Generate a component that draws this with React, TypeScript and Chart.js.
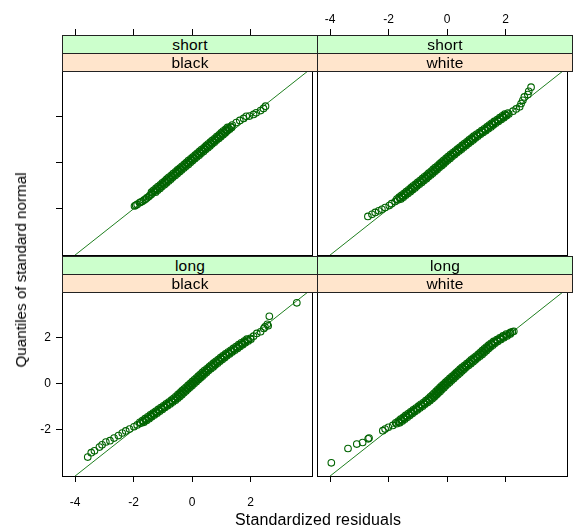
import React, { useEffect, useRef } from "react";
import { Chart, registerables } from "chart.js";
Chart.register(...registerables);

// ---- data ----
const xTickValues = [-4, -2, 0, 2];
const yTickValues = [-2, 0, 2];
const xRange = [-4.45, 4.13];
const yRange = [-4.0, 3.96];
const refLine = [-6, 6]; // y = x reference line
const durationLevels = ["short", "long"];
const raceLevels = ["black", "white"];
const xTitle = "Standardized residuals";
const yTitle = "Quantiles of standard normal";

// short / black
const ulX = [-1.97, -1.93, -1.88, -1.80, -1.76, -1.71, -1.65, -1.60, -1.55, -1.49, -1.45, -1.40,
  -1.36, -1.28, -1.21, -1.13, -1.06, -0.99, -0.91, -0.84, -0.76, -0.69, -0.61, -0.54, -0.46, -0.39, -0.32, -0.24, -0.17, -0.09, -0.02, 0.06, 0.13, 0.20, 0.28, 0.35, 0.43, 0.50, 0.58, 0.65, 0.73, 0.80, 0.87, 0.95, 1.02, 1.10, 1.17, 1.25, 1.32,
  1.37, 1.51, 1.63, 1.76, 1.85, 1.96, 2.10, 2.19, 2.34, 2.44, 2.51];
const ulY = [-1.88, -1.85, -1.81, -1.74, -1.71, -1.69, -1.63, -1.59, -1.53, -1.48, -1.43, -1.38,
  -1.32, -1.24, -1.16, -1.08, -1.00, -0.92, -0.84, -0.76, -0.68, -0.60, -0.52, -0.44, -0.36, -0.28, -0.20, -0.12, -0.04, 0.04, 0.12, 0.20, 0.28, 0.36, 0.44, 0.52, 0.60, 0.68, 0.76, 0.84, 0.92, 1.00, 1.08, 1.16, 1.24, 1.32, 1.40, 1.48, 1.56,
  1.62, 1.73, 1.82, 1.91, 2.00, 2.01, 2.08, 2.15, 2.25, 2.34, 2.44];
const ulMidY = [-1.28, -1.20, -1.12, -1.04, -0.96, -0.88, -0.80, -0.72, -0.64, -0.56, -0.48, -0.40, -0.32, -0.24, -0.16, -0.08, 0.00, 0.08, 0.16, 0.24, 0.32, 0.40, 0.48, 0.56, 0.64, 0.72, 0.80, 0.88, 0.96, 1.04, 1.12, 1.20, 1.28, 1.36, 1.44, 1.52];
const ulMidXa = [-1.25, -1.18, -1.10, -1.03, -0.95, -0.88, -0.80, -0.73, -0.66, -0.58, -0.51, -0.43, -0.36, -0.28, -0.21, -0.13, -0.06, 0.01, 0.09, 0.16, 0.24, 0.31, 0.39, 0.46, 0.54, 0.61, 0.68, 0.76, 0.83, 0.91, 0.98, 1.06, 1.13, 1.20, 1.28, 1.35];
const ulMidXb = [-1.39, -1.32, -1.24, -1.17, -1.09, -1.02, -0.94, -0.87, -0.80, -0.72, -0.65, -0.57, -0.50, -0.42, -0.35, -0.27, -0.20, -0.13, -0.05, 0.02, 0.10, 0.17, 0.25, 0.32, 0.40, 0.47, 0.54, 0.62, 0.69, 0.77, 0.84, 0.92, 0.99, 1.06, 1.14, 1.21];

// short / white
const urX = [-2.71, -2.57, -2.46, -2.34, -2.23, -2.12, -1.98, -1.90, -1.78,
  -1.69, -1.61, -1.53, -1.45, -1.37, -1.29, -1.21, -1.13, -1.06, -0.98, -0.90, -0.82, -0.74, -0.67, -0.59, -0.52, -0.44, -0.37, -0.30, -0.22, -0.15, -0.08, -0.01, 0.07, 0.14, 0.22, 0.30, 0.38, 0.46, 0.54, 0.62, 0.70, 0.78, 0.86, 0.94, 1.03, 1.12, 1.21, 1.30, 1.39, 1.47, 1.55, 1.63, 1.74, 1.83, 1.92, 2.00, 2.08,
  2.25, 2.36, 2.48, 2.53, 2.59, 2.64, 2.76, 2.79, 2.87];
const urY = [-2.33, -2.24, -2.16, -2.09, -2.02, -1.95, -1.86, -1.78, -1.69,
  -1.62, -1.54, -1.46, -1.38, -1.30, -1.22, -1.14, -1.06, -0.98, -0.90, -0.82, -0.74, -0.66, -0.58, -0.50, -0.42, -0.34, -0.26, -0.18, -0.10, -0.02, 0.06, 0.14, 0.22, 0.30, 0.38, 0.46, 0.54, 0.62, 0.70, 0.78, 0.86, 0.94, 1.02, 1.10, 1.18, 1.26, 1.34, 1.42, 1.50, 1.58, 1.66, 1.74, 1.82, 1.90, 1.98, 2.06, 2.14,
  2.22, 2.32, 2.41, 2.55, 2.69, 2.84, 2.94, 3.08, 3.26];
const urMidY = [-1.58, -1.50, -1.42, -1.34, -1.26, -1.18, -1.10, -1.02, -0.94, -0.86, -0.78, -0.70, -0.62, -0.54, -0.46, -0.38, -0.30, -0.22, -0.14, -0.06, 0.02, 0.10, 0.18, 0.26, 0.34, 0.42, 0.50, 0.58, 0.66, 0.74, 0.82, 0.90, 0.98, 1.06, 1.14, 1.22, 1.30, 1.38, 1.46, 1.54, 1.62, 1.70, 1.78, 1.86, 1.94, 2.02, 2.10];
const urMidXa = [-1.58, -1.50, -1.42, -1.34, -1.26, -1.18, -1.10, -1.03, -0.95, -0.87, -0.79, -0.71, -0.64, -0.56, -0.49, -0.41, -0.34, -0.27, -0.19, -0.12, -0.05, 0.02, 0.10, 0.17, 0.25, 0.33, 0.41, 0.49, 0.57, 0.65, 0.73, 0.81, 0.89, 0.97, 1.05, 1.14, 1.23, 1.32, 1.41, 1.50, 1.58, 1.66, 1.75, 1.85, 1.94, 2.03, 2.11];
const urMidXb = [-1.72, -1.64, -1.56, -1.48, -1.40, -1.32, -1.24, -1.17, -1.09, -1.01, -0.93, -0.85, -0.78, -0.70, -0.63, -0.55, -0.48, -0.41, -0.33, -0.26, -0.19, -0.12, -0.04, 0.03, 0.11, 0.19, 0.27, 0.35, 0.43, 0.51, 0.59, 0.67, 0.75, 0.83, 0.91, 1.00, 1.09, 1.18, 1.27, 1.36, 1.44, 1.52, 1.61, 1.71, 1.80, 1.89, 1.97];

// long / black
const llX = [-3.57, -3.45, -3.34, -3.17, -3.08, -2.95, -2.81, -2.67, -2.52, -2.39, -2.27, -2.14, -1.99, -1.88,
  -1.76, -1.67, -1.58, -1.49, -1.40, -1.31, -1.22, -1.13, -1.04, -0.95, -0.86, -0.77, -0.68, -0.59, -0.52, -0.45, -0.38, -0.31, -0.24, -0.17, -0.10, -0.03, 0.04, 0.11, 0.18, 0.25, 0.32, 0.39, 0.46, 0.53, 0.61, 0.69, 0.76, 0.84, 0.92, 1.00, 1.08, 1.17, 1.26, 1.35, 1.44, 1.53, 1.62, 1.71, 1.80, 1.90, 1.99,
  2.10, 2.21, 2.34, 2.45, 2.49, 2.57, 2.60, 2.64, 3.58];
const llY = [-3.18, -2.99, -2.91, -2.75, -2.65, -2.53, -2.47, -2.36, -2.25, -2.14, -2.05, -1.97, -1.87, -1.79,
  -1.72, -1.64, -1.56, -1.48, -1.40, -1.32, -1.24, -1.16, -1.08, -1.00, -0.92, -0.84, -0.76, -0.68, -0.60, -0.52, -0.44, -0.36, -0.28, -0.20, -0.12, -0.04, 0.04, 0.12, 0.20, 0.28, 0.36, 0.44, 0.52, 0.60, 0.68, 0.76, 0.84, 0.92, 1.00, 1.08, 1.16, 1.24, 1.32, 1.40, 1.48, 1.56, 1.64, 1.72, 1.80, 1.88, 1.96,
  2.05, 2.17, 2.24, 2.38, 2.45, 2.56, 2.50, 2.91, 3.49];
const llMidY = [-1.68, -1.60, -1.52, -1.44, -1.36, -1.28, -1.20, -1.12, -1.04, -0.96, -0.88, -0.80, -0.72, -0.64, -0.56, -0.48, -0.40, -0.32, -0.24, -0.16, -0.08, 0.00, 0.08, 0.16, 0.24, 0.32, 0.40, 0.48, 0.56, 0.64, 0.72, 0.80, 0.88, 0.96, 1.04, 1.12, 1.20, 1.28, 1.36, 1.44, 1.52, 1.60, 1.68, 1.76, 1.84, 1.92];
const llMidXa = [-1.65, -1.56, -1.47, -1.38, -1.29, -1.20, -1.11, -1.02, -0.93, -0.84, -0.75, -0.66, -0.57, -0.49, -0.42, -0.35, -0.28, -0.21, -0.14, -0.07, 0.00, 0.07, 0.14, 0.21, 0.28, 0.35, 0.42, 0.49, 0.56, 0.64, 0.72, 0.79, 0.87, 0.95, 1.03, 1.11, 1.19, 1.28, 1.37, 1.46, 1.55, 1.64, 1.73, 1.82, 1.92, 2.01];
const llMidXb = [-1.79, -1.70, -1.61, -1.52, -1.43, -1.34, -1.25, -1.16, -1.07, -0.98, -0.89, -0.80, -0.71, -0.63, -0.56, -0.49, -0.42, -0.35, -0.28, -0.21, -0.14, -0.07, 0.00, 0.07, 0.14, 0.21, 0.28, 0.35, 0.42, 0.50, 0.58, 0.65, 0.73, 0.81, 0.89, 0.97, 1.05, 1.14, 1.23, 1.32, 1.41, 1.50, 1.59, 1.68, 1.78, 1.87];

// long / white
const lrX = [-3.96, -3.39, -3.09, -2.89, -2.70, -2.67, -2.20, -2.12, -2.01, -1.86,
  -1.73, -1.64, -1.56, -1.47, -1.39, -1.30, -1.22, -1.13, -1.04, -0.95, -0.87, -0.78, -0.70, -0.61, -0.54, -0.47, -0.41, -0.34, -0.28, -0.21, -0.15, -0.08, -0.02, 0.05, 0.12, 0.19, 0.26, 0.33, 0.40, 0.47, 0.54, 0.62, 0.70, 0.78, 0.85, 0.93, 1.01, 1.09, 1.16, 1.23, 1.30, 1.37, 1.45, 1.52, 1.61, 1.71, 1.82, 1.92, 2.03, 2.14, 2.23,
  2.17, 2.28];
const lrY = [-3.43, -2.81, -2.62, -2.55, -2.39, -2.36, -2.04, -1.97, -1.89, -1.81,
  -1.74, -1.66, -1.58, -1.50, -1.42, -1.34, -1.26, -1.18, -1.10, -1.02, -0.94, -0.86, -0.78, -0.70, -0.62, -0.54, -0.46, -0.38, -0.30, -0.22, -0.14, -0.06, 0.02, 0.10, 0.18, 0.26, 0.34, 0.42, 0.50, 0.58, 0.66, 0.74, 0.82, 0.90, 0.98, 1.06, 1.14, 1.22, 1.30, 1.38, 1.46, 1.54, 1.62, 1.70, 1.78, 1.86, 1.94, 2.02, 2.10, 2.18, 2.24,
  2.21, 2.26];
const lrMidY = [-1.70, -1.62, -1.54, -1.46, -1.38, -1.30, -1.22, -1.14, -1.06, -0.98, -0.90, -0.82, -0.74, -0.66, -0.58, -0.50, -0.42, -0.34, -0.26, -0.18, -0.10, -0.02, 0.06, 0.14, 0.22, 0.30, 0.38, 0.46, 0.54, 0.62, 0.70, 0.78, 0.86, 0.94, 1.02, 1.10, 1.18, 1.26, 1.34, 1.42, 1.50, 1.58, 1.66, 1.74, 1.82, 1.90, 1.98, 2.06, 2.14];
const lrMidXa = [-1.62, -1.53, -1.45, -1.36, -1.28, -1.19, -1.11, -1.02, -0.93, -0.84, -0.76, -0.67, -0.59, -0.51, -0.44, -0.37, -0.31, -0.24, -0.18, -0.11, -0.05, 0.02, 0.09, 0.16, 0.23, 0.30, 0.37, 0.44, 0.51, 0.58, 0.65, 0.73, 0.81, 0.89, 0.96, 1.04, 1.12, 1.20, 1.27, 1.34, 1.41, 1.48, 1.56, 1.64, 1.73, 1.84, 1.94, 2.05, 2.16];
const lrMidXb = [-1.76, -1.67, -1.59, -1.50, -1.42, -1.33, -1.25, -1.16, -1.07, -0.98, -0.90, -0.81, -0.73, -0.65, -0.58, -0.51, -0.45, -0.38, -0.32, -0.25, -0.19, -0.12, -0.05, 0.02, 0.09, 0.16, 0.23, 0.30, 0.37, 0.44, 0.51, 0.59, 0.67, 0.75, 0.82, 0.90, 0.98, 1.06, 1.13, 1.20, 1.27, 1.34, 1.42, 1.50, 1.59, 1.70, 1.80, 1.91, 2.02];

// ---- layout ----
const FONT = "'Liberation Sans', Arial, Helvetica, sans-serif";
const PW = 255;
const PH = 184;
const WL = 60;
const HT = 70;
const HB = 50;
const WR = 1;
const COL_LEFT = [62, 317];
const ROW_TOP = [71, 292];
const STRIP_H = 18;
const PT_COLOR = "#006400";
const LINE_COLOR = "#1f7f1f";
const GREEN = "#ccffcc";
const PEACH = "#ffe5cc";

type PanelProps = {
  xs: number[];
  ys: number[];
  col: number;
  row: number;
};

function Panel({ xs, ys, col, row }: PanelProps) {
  const ref = useRef<HTMLCanvasElement | null>(null);
  const left = COL_LEFT[col] - WL;
  const top = ROW_TOP[row] - HT;
  const W = WL + PW + WR;
  const H = HT + PH + HB;

  useEffect(() => {
    if (!ref.current) return;
    const isTop = row === 0;
    const isLeft = col === 0;
    const tickFont = { family: FONT, size: 12 };
    const setX = (s: any) => {
      s.ticks = xTickValues.map((v) => ({ value: v }));
    };
    const setY = (s: any) => {
      s.ticks = yTickValues.map((v) => ({ value: v }));
    };
    const chart = new Chart(ref.current, {
      type: "scatter",
      data: {
        datasets: [
          {
            type: "scatter",
            data: xs.map((x, i) => ({ x, y: ys[i] })),
            pointStyle: "circle",
            pointRadius: 3.3,
            pointBorderWidth: 1.1,
            pointBorderColor: PT_COLOR,
            pointBackgroundColor: "rgba(0,0,0,0)",
            borderColor: PT_COLOR,
            backgroundColor: "rgba(0,0,0,0)",
            showLine: false,
          } as any,
          {
            type: "line",
            data: refLine.map((v) => ({ x: v, y: v })),
            borderColor: LINE_COLOR,
            borderWidth: 1,
            pointRadius: 0,
            fill: false,
            clip: 0,
          } as any,
        ],
      },
      options: {
        animation: false,
        responsive: false,
        maintainAspectRatio: false,
        devicePixelRatio: 1,
        layout: { padding: 0 },
        plugins: {
          legend: { display: false },
          tooltip: { enabled: false },
          title: { display: false },
        },
        events: [],
        scales: {
          x: {
            type: "linear",
            position: "bottom",
            min: xRange[0],
            max: xRange[1],
            afterBuildTicks: setX,
            afterFit: (s: any) => {
              s.height = HB;
            },
            grid: {
              display: true,
              drawOnChartArea: false,
              drawTicks: !isTop,
              tickLength: 6,
              color: "#000",
            },
            border: { display: true, color: "#000", width: 1 },
            ticks: {
              display: !isTop && isLeft,
              padding: 13,
              color: "#000",
              font: tickFont,
              maxRotation: 0,
              autoSkip: false,
            },
          },
          x2: {
            type: "linear",
            position: "top",
            min: xRange[0],
            max: xRange[1],
            afterBuildTicks: setX,
            afterFit: (s: any) => {
              s.height = HT;
            },
            grid: {
              display: true,
              drawOnChartArea: false,
              drawTicks: isTop,
              tickLength: 42,
              color: "#000",
            },
            border: { display: true, color: "#000", width: 1 },
            ticks: {
              display: isTop && !isLeft,
              padding: 2,
              color: "#000",
              font: tickFont,
              maxRotation: 0,
              autoSkip: false,
            },
          },
          y: {
            type: "linear",
            position: "left",
            min: yRange[0],
            max: yRange[1],
            afterBuildTicks: setY,
            afterFit: (s: any) => {
              s.width = WL;
            },
            grid: {
              display: true,
              drawOnChartArea: false,
              drawTicks: isLeft,
              tickLength: 6,
              color: "#000",
            },
            border: { display: true, color: "#000", width: 1 },
            ticks: {
              display: isLeft && !isTop,
              padding: 5,
              color: "#000",
              font: tickFont,
              autoSkip: false,
            },
          },
          y2: {
            type: "linear",
            position: "right",
            min: yRange[0],
            max: yRange[1],
            afterBuildTicks: setY,
            afterFit: (s: any) => {
              s.width = WR;
            },
            grid: {
              display: true,
              drawOnChartArea: false,
              drawTicks: false,
              color: "#000",
            },
            border: { display: true, color: "#000", width: 1 },
            ticks: { display: false },
          },
        },
      } as any,
    });
    return () => chart.destroy();
  }, [xs, ys, col, row]);

  return (
    <canvas
      ref={ref}
      width={W}
      height={H}
      style={{ position: "absolute", left, top, width: W, height: H }}
    />
  );
}

function Strip({ col, row, level, text }: { col: number; row: number; level: number; text: string }) {
  // level 1 = outer (green, duration), level 0 = inner (peach, race)
  const stripTop = ROW_TOP[row] - STRIP_H * (level + 1);
  return (
    <div
      style={{
        position: "absolute",
        left: COL_LEFT[col],
        top: stripTop,
        width: PW + 1,
        height: STRIP_H + 1,
        boxSizing: "border-box",
        border: "1px solid #222",
        background: level === 1 ? GREEN : PEACH,
        fontFamily: FONT,
        fontSize: 15.5,
        letterSpacing: "0.2px",
        lineHeight: `${STRIP_H - 1}px`,
        textAlign: "center",
        color: "#000",
        whiteSpace: "nowrap",
        overflow: "visible",
        zIndex: 2,
      }}
    >
      {text}
    </div>
  );
}

const ulAllX = [...ulX, ...ulMidXa, ...ulMidXb];
const ulAllY = [...ulY, ...ulMidY, ...ulMidY];
const urAllX = [...urX, ...urMidXa, ...urMidXb];
const urAllY = [...urY, ...urMidY, ...urMidY];
const llAllX = [...llX, ...llMidXa, ...llMidXb];
const llAllY = [...llY, ...llMidY, ...llMidY];
const lrAllX = [...lrX, ...lrMidXa, ...lrMidXb];
const lrAllY = [...lrY, ...lrMidY, ...lrMidY];

export default function App() {
  const panels = [
    { xs: ulAllX, ys: ulAllY, col: 0, row: 0 },
    { xs: urAllX, ys: urAllY, col: 1, row: 0 },
    { xs: llAllX, ys: llAllY, col: 0, row: 1 },
    { xs: lrAllX, ys: lrAllY, col: 1, row: 1 },
  ];
  return (
    <div
      style={{
        position: "absolute",
        left: 0,
        top: 0,
        width: 573,
        height: 527,
        background: "#fff",
        overflow: "hidden",
        fontFamily: FONT,
      }}
    >
      {panels.map((p, i) => (
        <Panel key={i} xs={p.xs} ys={p.ys} col={p.col} row={p.row} />
      ))}
      {panels.map((p, i) => (
        <React.Fragment key={"s" + i}>
          <Strip col={p.col} row={p.row} level={1} text={durationLevels[p.row]} />
          <Strip col={p.col} row={p.row} level={0} text={raceLevels[p.col]} />
        </React.Fragment>
      ))}
      <div
        style={{
          position: "absolute",
          left: 318,
          top: 512,
          transform: "translateX(-50%)",
          fontSize: 16,
          letterSpacing: "0.15px",
          lineHeight: "16px",
          whiteSpace: "nowrap",
          color: "#000",
          zIndex: 3,
        }}
      >
        {xTitle}
      </div>
      <div
        style={{
          position: "absolute",
          left: 21,
          top: 270,
          transform: "translate(-50%, -50%) rotate(-90deg)",
          fontSize: 15.2,
          lineHeight: "16px",
          whiteSpace: "nowrap",
          color: "#000",
          zIndex: 3,
        }}
      >
        {yTitle}
      </div>
    </div>
  );
}
